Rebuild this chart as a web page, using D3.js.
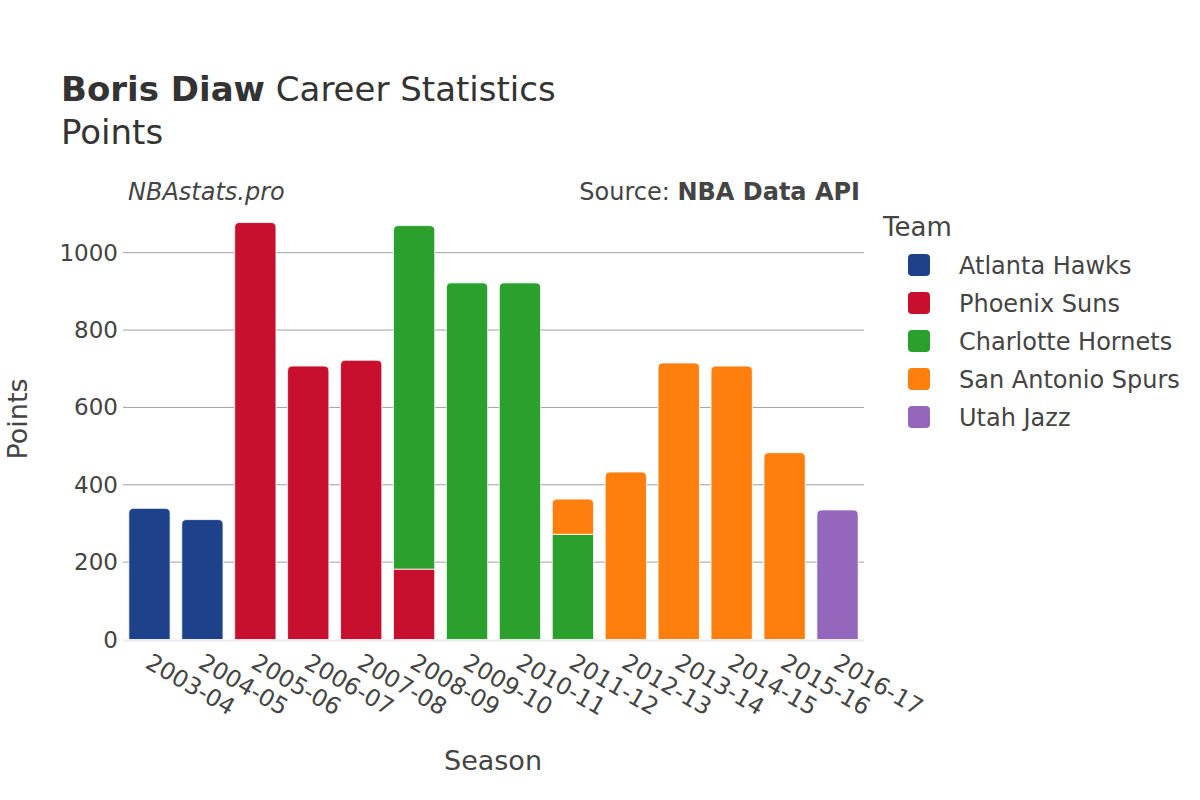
<!DOCTYPE html>
<html>
<head>
<meta charset="utf-8">
<script src="https://cdn.jsdelivr.net/npm/d3@7"></script>
<style>
  body { margin: 0; background: #fff; }
  text { font-family: "DejaVu Sans", sans-serif; fill: #444; }
</style>
</head>
<body>
<div id="chart"></div>
<script>
var width = 1200,
    height = 800;

var seasons = ['2003-04', '2004-05', '2005-06', '2006-07', '2007-08', '2008-09', '2009-10',
               '2010-11', '2011-12', '2012-13', '2013-14', '2014-15', '2015-16', '2016-17'];

var teams = ['Atlanta Hawks', 'Phoenix Suns', 'Charlotte Hornets', 'San Antonio Spurs', 'Utah Jazz'];
var teamColors = ['#1d428a', '#c8102e', '#2ca02c', '#ff7f0e', '#9467bd'];

// points per season, one array per team (0 = did not play there)
var atlanta   = [339, 310, 0, 0, 0, 0, 0, 0, 0, 0, 0, 0, 0, 0];
var phoenix   = [0, 0, 1078, 707, 722, 182, 0, 0, 0, 0, 0, 0, 0, 0];
var charlotte = [0, 0, 0, 0, 0, 888, 922, 922, 272, 0, 0, 0, 0, 0];
var spurs     = [0, 0, 0, 0, 0, 0, 0, 0, 91, 433, 715, 707, 483, 0];
var utah      = [0, 0, 0, 0, 0, 0, 0, 0, 0, 0, 0, 0, 0, 335];
var yTicks = [0, 200, 400, 600, 800, 1000];

var series = [atlanta, phoenix, charlotte, spurs, utah];

var svg = d3.select('#chart').append('svg')
    .attr('width', width)
    .attr('height', height);

var x = d3.scaleBand()
    .domain(seasons)
    .range([123, 864])
    .paddingInner(0.22)
    .paddingOuter(0.11);

var y = d3.scaleLinear()
    .domain([0, 1000])
    .range([639.5, 252.7]);

// grid
svg.append('g').selectAll('line')
    .data(yTicks.filter(function(d) { return d > 0; }))
  .enter().append('line')
    .attr('x1', 123).attr('x2', 864)
    .attr('y1', function(d) { return y(d); })
    .attr('y2', function(d) { return y(d); })
    .attr('stroke', '#a0a0a0')
    .attr('stroke-width', 1);

svg.append('line')
    .attr('x1', 123).attr('x2', 864)
    .attr('y1', y(0) + 1).attr('y2', y(0) + 1)
    .attr('stroke', '#ebebeb')
    .attr('stroke-width', 2);

// stacked segments
var segs = [];
seasons.forEach(function(s, i) {
    var base = 0, last = null;
    series.forEach(function(arr, t) {
        if (!arr[i]) return;
        last = {season: s, team: t, y0: base, y1: base + arr[i], top: false};
        segs.push(last);
        base += arr[i];
    });
    if (last) last.top = true;
});

function barPath(d) {
    var x0 = x(d.season), w = x.bandwidth();
    var yb = y(d.y0), yt = y(d.y1);
    var r = d.top ? Math.min(5, (yb - yt) / 2) : 0;
    return 'M' + x0 + ',' + yb +
        'V' + (yt + r) +
        'Q' + x0 + ',' + yt + ' ' + (x0 + r) + ',' + yt +
        'H' + (x0 + w - r) +
        'Q' + (x0 + w) + ',' + yt + ' ' + (x0 + w) + ',' + (yt + r) +
        'V' + yb + 'Z';
}

svg.append('g').selectAll('path')
    .data(segs)
  .enter().append('path')
    .attr('d', barPath)
    .attr('fill', function(d) { return teamColors[d.team]; })
    .attr('stroke', '#fff')
    .attr('stroke-width', 0.8);

// y axis labels
svg.append('g').selectAll('text')
    .data(yTicks)
  .enter().append('text')
    .attr('x', 118)
    .attr('y', function(d) { return y(d) + 8; })
    .attr('text-anchor', 'end')
    .style('font-size', '23px')
    .text(function(d) { return d; });

// x axis labels
svg.append('g').selectAll('text')
    .data(seasons)
  .enter().append('text')
    .attr('transform', function(d) {
        return 'translate(' + (x(d) + x.bandwidth() / 2 - 5.5) + ',667) rotate(30)';
    })
    .attr('text-anchor', 'start')
    .style('font-size', '23.5px')
    .text(function(d) { return d; });

// axis titles
svg.append('text')
    .attr('x', 493).attr('y', 770)
    .attr('text-anchor', 'middle')
    .style('font-size', '27px')
    .text('Season');

svg.append('text')
    .attr('transform', 'translate(27,419) rotate(-90)')
    .attr('text-anchor', 'middle')
    .style('font-size', '27px')
    .text('Points');

// title
var title = svg.append('text')
    .attr('x', 61).attr('y', 101)
    .style('font-size', '34px')
    .style('fill', '#333');
title.append('tspan').style('font-weight', 'bold').text('Boris Diaw');
title.append('tspan').text(' Career Statistics');

svg.append('text')
    .attr('x', 61).attr('y', 144)
    .style('font-size', '34px')
    .style('fill', '#333')
    .text('Points');

svg.append('text')
    .attr('x', 128).attr('y', 200)
    .style('font-size', '24px')
    .style('font-style', 'italic')
    .text('NBAstats.pro');

var src = svg.append('text')
    .attr('x', 860).attr('y', 200)
    .attr('text-anchor', 'end')
    .style('font-size', '24px');
src.append('tspan').text('Source: ');
src.append('tspan').style('font-weight', 'bold').text('NBA Data API');

// legend
svg.append('text')
    .attr('x', 883).attr('y', 236)
    .style('font-size', '26px')
    .text('Team');

var leg = svg.append('g').selectAll('g')
    .data(teams)
  .enter().append('g')
    .attr('transform', function(d, i) { return 'translate(0,' + (265 + i * 38) + ')'; });
leg.append('rect')
    .attr('x', 908).attr('y', -11)
    .attr('width', 22).attr('height', 22)
    .attr('rx', 4)
    .attr('fill', function(d, i) { return teamColors[i]; });
leg.append('text')
    .attr('x', 959).attr('y', 8.5)
    .style('font-size', '24px')
    .text(function(d) { return d; });
</script>
</body>
</html>
